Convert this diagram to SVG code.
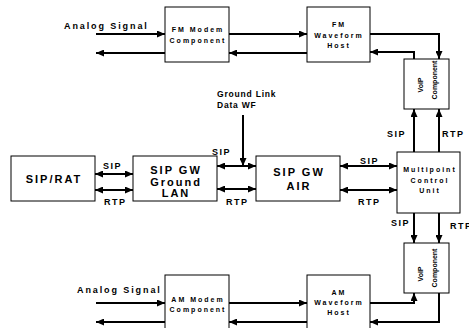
<svg xmlns="http://www.w3.org/2000/svg" width="469" height="328" viewBox="0 0 469 328">
<style>
text{font-family:"Liberation Sans",Arial,sans-serif;font-weight:bold;fill:#000}
.box{fill:#fff;stroke:#000;stroke-width:1}
.c{fill:none;stroke:#000;stroke-width:2}
.s7{font-size:7px;letter-spacing:2px;text-anchor:middle}
.v7{font-size:7px;text-anchor:middle}
.s11{font-size:11px;letter-spacing:2px;text-anchor:middle}
.lbl{font-size:9px;letter-spacing:1.5px}
.an{font-size:9px;letter-spacing:1.9px}
</style>
<defs>
<marker id="ah" markerWidth="8" markerHeight="7" refX="8" refY="3.5" orient="auto-start-reverse" markerUnits="userSpaceOnUse"><path d="M0,0L8,3.5L0,7z"/></marker>
</defs>
<g id="connectors" class="c">
<path d="M96,34H165" marker-end="url(#ah)"/>
<path d="M165,53H96" marker-end="url(#ah)"/>
<path d="M229,34H307" marker-end="url(#ah)"/>
<path d="M307,53H229" marker-end="url(#ah)"/>
<path d="M370,34H439V59" marker-end="url(#ah)"/>
<path d="M414,59V52H370" marker-end="url(#ah)"/>
<path d="M95,174H133" marker-start="url(#ah)" marker-end="url(#ah)"/>
<path d="M95,190H133" marker-start="url(#ah)" marker-end="url(#ah)"/>
<path d="M217,166H256" marker-start="url(#ah)" marker-end="url(#ah)"/>
<path d="M217,189H256" marker-start="url(#ah)" marker-end="url(#ah)"/>
<path d="M243,115V166" marker-end="url(#ah)"/>
<path d="M340,166H397" marker-start="url(#ah)" marker-end="url(#ah)"/>
<path d="M340,190H397" marker-start="url(#ah)" marker-end="url(#ah)"/>
<path d="M414,152V109" marker-end="url(#ah)"/>
<path d="M439,152V109" marker-end="url(#ah)"/>
<path d="M414,213V243" marker-end="url(#ah)"/>
<path d="M439,213V243" marker-end="url(#ah)"/>
<path d="M96,303H165" marker-end="url(#ah)"/>
<path d="M165,322H96" marker-end="url(#ah)"/>
<path d="M229,303H307" marker-end="url(#ah)"/>
<path d="M307,322H229" marker-end="url(#ah)"/>
<path d="M370,303H414V293" marker-end="url(#ah)"/>
<path d="M439,293V322H370" marker-end="url(#ah)"/>
</g>
<g id="labels">
<text class="an" x="64" y="29">Analog Signal</text>
<text class="an" x="77" y="293">Analog Signal</text>
<text style="font-size:8.5px;letter-spacing:0.8px" x="217" y="97">Ground Link</text>
<text style="font-size:8.5px;letter-spacing:0.8px" x="217" y="108">Data WF</text>
<text class="lbl" x="103" y="169">SIP</text>
<text class="lbl" x="104" y="205">RTP</text>
<text class="lbl" x="212" y="155">SIP</text>
<text class="lbl" x="226" y="205">RTP</text>
<text class="lbl" x="360" y="164">SIP</text>
<text class="lbl" x="358" y="205">RTP</text>
<text class="lbl" x="387" y="137">SIP</text>
<text class="lbl" x="442" y="137">RTP</text>
<text class="lbl" x="391" y="226">SIP</text>
<text class="lbl" x="450" y="229">RTP</text>
</g>
<g id="fm-modem"><rect class="box" x="165" y="7" width="64" height="55"/><text class="s7" x="198" y="32">FM Modem</text><text class="s7" x="198" y="43">Component</text></g>
<g id="fm-host"><rect class="box" x="307" y="7" width="63" height="55"/><text class="s7" x="339" y="27">FM</text><text class="s7" x="339" y="38">Waveform</text><text class="s7" x="339" y="48">Host</text></g>
<g id="voip-top"><rect class="box" x="404" y="59" width="45" height="50"/><text class="v7" transform="translate(423,85) rotate(-90)">VoIP</text><text class="v7" transform="translate(437,80) rotate(-90)">Component</text></g>
<g id="sip-rat"><rect class="box" x="11" y="156" width="84" height="45"/><text class="s11" x="54" y="183">SIP/RAT</text></g>
<g id="gw-lan"><rect class="box" x="133" y="156" width="84" height="45"/><text class="s11" x="176" y="174">SIP GW</text><text class="s11" x="176" y="186">Ground</text><text class="s11" x="176" y="197">LAN</text></g>
<g id="gw-air"><rect class="box" x="256" y="156" width="84" height="45"/><text class="s11" x="299" y="176">SIP GW</text><text class="s11" x="299" y="190">AIR</text></g>
<g id="mcu"><rect class="box" x="397" y="152" width="63" height="61"/><text class="s7" x="430" y="172">Multipoint</text><text class="s7" x="430" y="183">Control</text><text class="s7" x="430" y="193">Unit</text></g>
<g id="voip-bottom"><rect class="box" x="404" y="243" width="45" height="50"/><text class="v7" transform="translate(423,274) rotate(-90)">VoIP</text><text class="v7" transform="translate(437,268) rotate(-90)">Component</text></g>
<g id="am-modem"><rect class="box" x="165" y="275" width="64" height="60"/><text class="s7" x="198" y="302">AM Modem</text><text class="s7" x="198" y="312">Component</text></g>
<g id="am-host"><rect class="box" x="307" y="275" width="63" height="60"/><text class="s7" x="339" y="295">AM</text><text class="s7" x="339" y="305">Waveform</text><text class="s7" x="339" y="315">Host</text></g>
</svg>
